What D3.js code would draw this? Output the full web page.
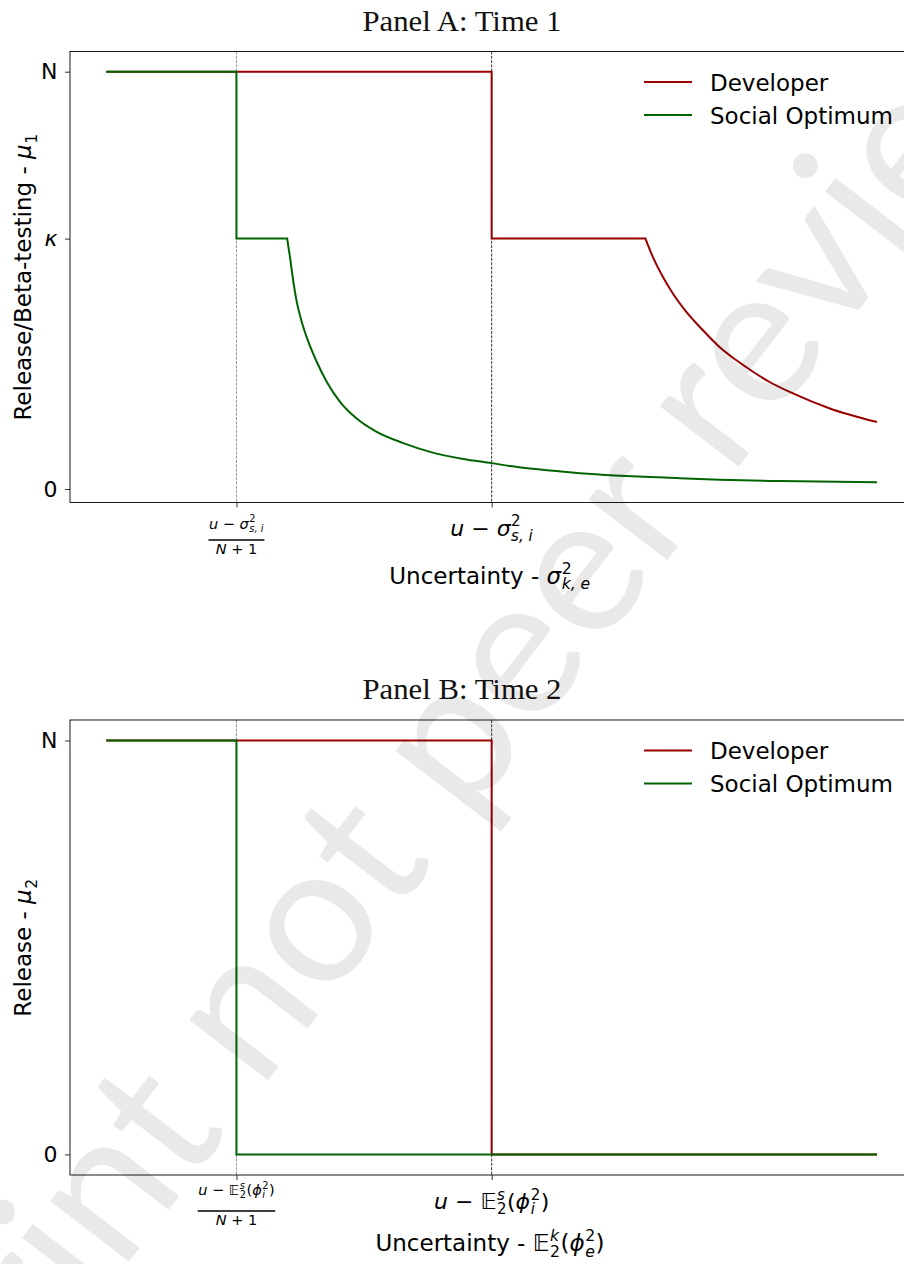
<!DOCTYPE html>
<html>
<head>
<meta charset="utf-8">
<script src="https://cdn.jsdelivr.net/npm/d3@7"></script>
<style>
  body { margin: 0; background: #fff; }
  svg { display: block; font-family: 'DejaVu Sans', sans-serif; }
</style>
</head>
<body>
<svg></svg>
<script>
// ---- values (x: uncertainty in arbitrary units 0..10, y: N = 10)
const N = 10;
const kappa = 6;
const xDomain = [0, 10];
const thresholds = [1.68, 5.0]; // (u - s)/(N+1), u - s
const seriesNames = ['Developer', 'Social Optimum'];
const seriesColors = ['#990000', '#006400'];

// Panel A, developer: step part then decaying part
const devStepA = [[0, N], [5.0, N], [5.0, kappa], [7.0, kappa]];
const devCurveA = [[7.0, 6], [7.095, 5.57], [7.225, 5.09], [7.355, 4.69], [7.53, 4.25],
  [7.745, 3.81], [7.96, 3.41], [8.18, 3.09], [8.40, 2.81], [8.61, 2.57], [8.92, 2.29],
  [9.40, 1.93], [10, 1.61]];

// Panel A, social optimum
const socStepA = [[0, N], [1.68, N], [1.68, kappa], [2.34, kappa]];
const socCurveA = [[2.34, 6], [2.377, 5.55], [2.42, 4.97], [2.464, 4.49], [2.529, 4.01],
  [2.615, 3.53], [2.724, 3.05], [2.854, 2.57], [3.027, 2.09], [3.244, 1.69], [3.505, 1.37],
  [3.851, 1.10], [4.198, 0.89], [4.631, 0.72], [5.0, 0.62], [5.24, 0.55], [6.15, 0.38],
  [7.45, 0.26], [8.75, 0.19], [10, 0.16]];

// Panel B
const devStepB = [[0, N], [5.0, N], [5.0, 0], [10, 0]];
const socStepB = [[0, N], [1.68, N], [1.68, 0], [10, 0]];

const yTicksA = [0, kappa, N];
const yTickLabelsA = ['0', 'κ', 'N'];
const yTicksB = [0, N];
const yTickLabelsB = ['0', 'N'];

const titles = ['Panel A: Time 1', 'Panel B: Time 2'];
const watermark = 'preprint not peer reviewed';

// ---- layout
const width = 904;
const height = 1264;
const fs = 23;

const svg = d3.select('svg').attr('width', width).attr('height', height);

const xScale = d3.scaleLinear().domain(xDomain).range([107.3, 876]);

// small helper for matplotlib-like math text: base glyphs with stacked sup/sub
const mathText = (parent, parts, size) => {
  const g = parent.append('g');
  let cx = 0;
  parts.forEach((p) => {
    if (p.t) {
      const t = g.append('text')
        .attr('x', cx)
        .attr('y', 0)
        .style('font-size', size + 'px')
        .style('font-style', p.it ? 'italic' : 'normal')
        .attr('xml:space', 'preserve')
        .text(p.t);
      cx += t.node().getComputedTextLength();
    }
    if (p.sup || p.sub) {
      let w = 0;
      if (p.sup) {
        const s = g.append('text')
          .attr('x', cx + 0.5)
          .attr('y', -0.42 * size)
          .style('font-size', 0.68 * size + 'px')
          .style('font-style', p.supIt ? 'italic' : 'normal')
          .text(p.sup);
        w = Math.max(w, s.node().getComputedTextLength());
      }
      if (p.sub) {
        const s = g.append('text')
          .attr('x', cx + 0.5)
          .attr('y', 0.24 * size)
          .style('font-size', 0.68 * size + 'px')
          .style('font-style', p.subIt ? 'italic' : 'normal')
          .attr('xml:space', 'preserve')
          .text(p.sub);
        w = Math.max(w, s.node().getComputedTextLength());
      }
      cx += w + 1;
    }
  });
  return { g: g, width: cx };
};

const placeCentered = (parent, parts, size, x, y) => {
  const m = mathText(parent, parts, size);
  m.g.attr('transform', 'translate(' + (x - m.width / 2) + ',' + y + ')');
  return m;
};

const sigmaTick = [{ t: 'u', it: true }, { t: ' − ' }, { t: 'σ', it: true, sup: '2', sub: 's, i', subIt: true }];
const expTick = [{ t: 'u', it: true }, { t: ' − ' }, { t: '𝔼', sup: 's', supIt: true, sub: '2' },
  { t: '(' }, { t: 'ϕ', it: true, sup: '2', sub: 'i', subIt: true }, { t: ')' }];
const denom = [{ t: 'N', it: true }, { t: ' + 1' }];

const panels = [
  {
    top: 51.5, bottom: 502.5, yRange: [489, 71.7],
    yTicks: yTicksA, yLabels: yTickLabelsA,
    series: [[devStepA, devCurveA], [socStepA, socCurveA]],
    ylabel: [{ t: 'Release/Beta-testing - ' }, { t: 'μ', it: true, sub: '1' }],
    xlabel: [{ t: 'Uncertainty - ' }, { t: 'σ', it: true, sup: '2', sub: 'k, e', subIt: true }],
    tick1: sigmaTick, tick2: sigmaTick,
    fr: { num: 26, bar: 37.5, den: 51 }, xlabelY: 81, tickY: 33
  },
  {
    top: 720, bottom: 1175, yRange: [1154.4, 740.5],
    yTicks: yTicksB, yLabels: yTickLabelsB,
    series: [[devStepB, null], [socStepB, null]],
    ylabel: [{ t: 'Release - ' }, { t: 'μ', it: true, sub: '2' }],
    xlabel: [{ t: 'Uncertainty - ' }, { t: '𝔼', sup: 'k', supIt: true, sub: '2' },
      { t: '(' }, { t: 'ϕ', it: true, sup: '2', sub: 'e', subIt: true }, { t: ')' }],
    tick1: expTick, tick2: expTick,
    fr: { num: 20, bar: 36, den: 49.5 }, xlabelY: 76, tickY: 34
  }
];

panels.forEach((p, pi) => {
  const yScale = d3.scaleLinear().domain([0, N]).range(p.yRange);
  const g = svg.append('g');

  // threshold guides
  thresholds.forEach((t, i) => {
    g.append('line')
      .attr('x1', xScale(t)).attr('x2', xScale(t))
      .attr('y1', p.top).attr('y2', p.bottom)
      .attr('stroke', i === 0 ? '#7a7a7a' : '#000')
      .attr('stroke-width', 0.8)
      .attr('stroke-dasharray', '3,1.3');
  });

  // series lines
  const stepLine = d3.line().x((d) => xScale(d[0])).y((d) => yScale(d[1]));
  const curveLine = d3.line().x((d) => xScale(d[0])).y((d) => yScale(d[1])).curve(d3.curveMonotoneX);
  p.series.forEach((s, si) => {
    let d = stepLine(s[0]);
    if (s[1]) d += curveLine(s[1]);
    g.append('path')
      .attr('d', d)
      .attr('fill', 'none')
      .attr('stroke', seriesColors[si])
      .attr('stroke-width', 2)
      .attr('stroke-linejoin', 'miter')
      .attr('stroke-linecap', 'square');
  });

  // frame
  g.append('rect')
    .attr('x', 70).attr('y', p.top)
    .attr('width', 855).attr('height', p.bottom - p.top)
    .attr('fill', 'none').attr('stroke', '#000').attr('stroke-width', 0.9);

  // y axis
  const yAxis = d3.axisLeft(yScale)
    .tickValues(p.yTicks)
    .tickFormat((d, i) => p.yLabels[i])
    .tickSize(5)
    .tickPadding(7.5);
  const ya = g.append('g').attr('transform', 'translate(70,0)').call(yAxis);
  ya.select('.domain').remove();
  ya.selectAll('line').attr('stroke', '#000').attr('stroke-width', 0.8);
  ya.selectAll('text')
    .attr('fill', '#000')
    .style('font-family', 'DejaVu Sans')
    .style('font-size', '22px')
    .style('font-style', (d, i) => (p.yLabels[i] === 'κ' ? 'italic' : 'normal'));

  // x axis
  const xAxis = d3.axisBottom(xScale).tickValues(thresholds).tickFormat('').tickSize(5);
  const xa = g.append('g').attr('transform', 'translate(0,' + p.bottom + ')').call(xAxis);
  xa.select('.domain').remove();
  xa.selectAll('line').attr('stroke', '#000').attr('stroke-width', 0.8);

  // fraction tick label
  const fx = xScale(thresholds[0]);
  const num = placeCentered(g, p.tick1, 14.5, fx, p.bottom + p.fr.num);
  const den = placeCentered(g, denom, 14.5, fx, p.bottom + p.fr.den);
  const bw = Math.max(num.width, den.width) + 1;
  g.append('line')
    .attr('x1', fx - bw / 2).attr('x2', fx + bw / 2)
    .attr('y1', p.bottom + p.fr.bar).attr('y2', p.bottom + p.fr.bar)
    .attr('stroke', '#000').attr('stroke-width', 1.3);

  placeCentered(g, p.tick2, 22, xScale(thresholds[1]), p.bottom + p.tickY);

  // axis labels
  placeCentered(g, p.xlabel, fs, 490, p.bottom + p.xlabelY);
  const yl = g.append('g')
    .attr('transform', 'translate(31,' + (p.top + p.bottom) / 2 + ') rotate(-90)');
  placeCentered(yl, p.ylabel, fs, 0, 0);

  // title
  g.append('text')
    .attr('x', 462).attr('y', p.top - 21)
    .attr('text-anchor', 'middle')
    .attr('textLength', 199)
    .attr('lengthAdjust', 'spacingAndGlyphs')
    .style('font-family', 'Liberation Serif, serif')
    .style('font-size', '29px')
    .attr('fill', '#111')
    .text(titles[pi]);

  // legend
  seriesNames.forEach((name, i) => {
    const ly = p.top + 30.5 + i * 33;
    g.append('line')
      .attr('x1', 644).attr('x2', 692)
      .attr('y1', ly).attr('y2', ly)
      .attr('stroke', seriesColors[i]).attr('stroke-width', 2);
    g.append('text')
      .attr('x', 710).attr('y', ly + 8.5)
      .style('font-size', fs + 'px')
      .attr('fill', '#000')
      .text(name);
  });
});

// watermark on top, placed so that the "o" of "not" sits where it is in the picture
const wmSize = 196;
const wmAngle = -52.5;
const wm = svg.append('text')
  .style('font-family', 'Lato, sans-serif')
  .style('font-size', wmSize + 'px')
  .attr('fill', '#000')
  .attr('fill-opacity', 0.085)
  .text(watermark);
const oIdx = watermark.indexOf('not') + 1;
const oAdv = wm.node().getSubStringLength(0, oIdx) + wm.node().getSubStringLength(oIdx, 1) / 2;
const ang = wmAngle * Math.PI / 180;
const oCenter = [320, 931];
const lift = 0.253 * wmSize;
const ox = oCenter[0] - oAdv * Math.cos(ang) - lift * Math.sin(ang);
const oy = oCenter[1] - oAdv * Math.sin(ang) + lift * Math.cos(ang);
wm.attr('transform', 'translate(' + ox + ',' + oy + ') rotate(' + wmAngle + ')');
</script>
</body>
</html>
